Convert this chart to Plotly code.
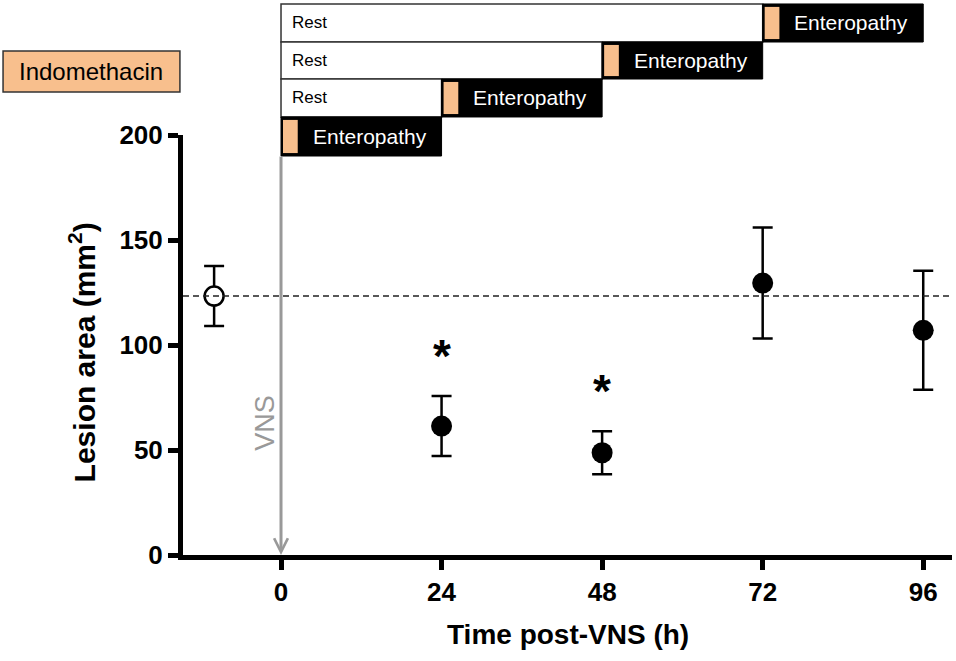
import plotly.graph_objects as go

# ---- data ----
time_points = [24, 48, 72, 96]
lesion_mean = [61.4, 48.7, 129.5, 107.0]
lesion_sem = [14.3, 10.2, 26.4, 28.3]
control_mean = 123.3
control_sem = 14.3
significant = [True, True, False, False]
x_ticks = [0, 24, 48, 72, 96]
enteropathy_start = [72, 48, 24, 0]   # one row per protocol, top to bottom
enteropathy_duration = 24
vns_time = 0

FONT = "Liberation Sans"
ORANGE = "#F8BF8D"
GRAY = "#999999"
CONTROL_X = -10

fig = go.Figure()

# control (open circle)
fig.add_trace(go.Scatter(
    x=[CONTROL_X], y=[control_mean], mode="markers",
    marker=dict(size=19, color="white", line=dict(color="black", width=2.5)),
    error_y=dict(type="data", array=[control_sem], color="black", thickness=2.5, width=10),
    showlegend=False, hoverinfo="skip"))

# VNS groups (filled circles)
fig.add_trace(go.Scatter(
    x=time_points, y=lesion_mean, mode="markers",
    marker=dict(size=21, color="black"),
    error_y=dict(type="data", array=lesion_sem, color="black", thickness=2.5, width=10),
    showlegend=False, hoverinfo="skip"))

shapes = []
annotations = []

# dashed reference line at control mean
shapes.append(dict(type="line", xref="paper", yref="y", x0=0, x1=1,
                   y0=control_mean, y1=control_mean,
                   line=dict(color="#222", width=1.5, dash="6px,4px")))

# timeline boxes
row_edges = [1.3120, 1.2214, 1.1333, 1.0429, 0.95]
for i, start in enumerate(enteropathy_start):
    y_top = row_edges[i]
    y_bot = row_edges[i + 1]
    y_mid = (y_top + y_bot) / 2
    if start > vns_time:
        shapes.append(dict(type="rect", xref="x", yref="paper", x0=vns_time, x1=start,
                           y0=y_bot, y1=y_top, fillcolor="white",
                           line=dict(color="#333", width=1.5), layer="above"))
        annotations.append(dict(x=vns_time, y=y_mid, xref="x", yref="paper", text="Rest",
                                showarrow=False, xanchor="left", yanchor="middle", xshift=9,
                                font=dict(family=FONT, size=17, color="black")))
    end = start + enteropathy_duration
    shapes.append(dict(type="rect", xref="x", yref="paper", x0=start, x1=end,
                       y0=y_bot, y1=y_top, fillcolor="black",
                       line=dict(color="black", width=1), layer="above"))
    shapes.append(dict(type="rect", xref="x", yref="paper", x0=start + 0.3, x1=start + 2.5,
                       y0=y_bot + 0.007, y1=y_top - 0.007, fillcolor=ORANGE,
                       line=dict(width=0), layer="above"))
    annotations.append(dict(x=(start + 2.5 + end) / 2, y=y_mid, xref="x", yref="paper",
                            text="Enteropathy", showarrow=False, xanchor="center", yanchor="middle",
                            font=dict(family=FONT, size=21, color="white")))

# Indomethacin label box
shapes.append(dict(type="rect", xref="paper", yref="paper", x0=-0.234, x1=-0.004,
                   y0=1.1024, y1=1.2, fillcolor=ORANGE, line=dict(color="#333", width=1.5)))
annotations.append(dict(x=-0.119, y=1.151, xref="paper", yref="paper", text="Indomethacin",
                        showarrow=False, xanchor="center", yanchor="middle",
                        font=dict(family=FONT, size=24, color="black")))

# VNS arrow
annotations.append(dict(x=vns_time, y=0, xref="x", yref="y", ax=vns_time, ay=190.5,
                        axref="x", ayref="y", text="", showarrow=True,
                        arrowhead=5, arrowsize=0.9, arrowwidth=3, arrowcolor=GRAY, standoff=0))
annotations.append(dict(x=vns_time, y=63, xref="x", yref="y", text="VNS", textangle=-90,
                        showarrow=False, xanchor="center", yanchor="middle", xshift=-16,
                        font=dict(family=FONT, size=27, color=GRAY)))

# significance asterisks
for t, m, s, sig in zip(time_points, lesion_mean, lesion_sem, significant):
    if sig:
        annotations.append(dict(x=t, y=m + s, xref="x", yref="y", text="<b>*</b>",
                                showarrow=False, xanchor="center", yanchor="middle", yshift=40,
                                font=dict(family=FONT, size=46, color="black")))

# axis titles
annotations.append(dict(x=0.5, y=-0.19, xref="paper", yref="paper",
                        text="<b>Time post-VNS (h)</b>", showarrow=False,
                        xanchor="center", yanchor="middle",
                        font=dict(family=FONT, size=28, color="black")))
annotations.append(dict(x=-0.131, y=0.483, xref="paper", yref="paper",
                        text="<b>Lesion area (mm<sup>2</sup>)</b>", showarrow=False, textangle=-90,
                        xanchor="center", yanchor="middle",
                        font=dict(family=FONT, size=30, color="black")))

fig.update_layout(
    width=956, height=661,
    margin=dict(l=183, r=4, t=135, b=106),
    paper_bgcolor="white", plot_bgcolor="white",
    shapes=shapes, annotations=annotations,
    xaxis=dict(range=[-14.65, 100.3], tickvals=x_ticks, ticktext=[str(v) for v in x_ticks],
               showgrid=False, zeroline=False, showline=True, linecolor="black", linewidth=5,
               ticks="outside", ticklen=10, tickwidth=5, tickcolor="black",
               tickfont=dict(family=FONT, size=26, color="black", weight="bold")),
    yaxis=dict(range=[0, 200], tickvals=[0, 50, 100, 150, 200],
               showgrid=False, zeroline=False, showline=True, linecolor="black", linewidth=5,
               ticks="outside", ticklen=10, tickwidth=5, tickcolor="black",
               tickfont=dict(family=FONT, size=26, color="black", weight="bold")),
)

fig.write_html("out.html", config={"displayModeBar": False},
               post_script="document.body.style.margin='0px';")
